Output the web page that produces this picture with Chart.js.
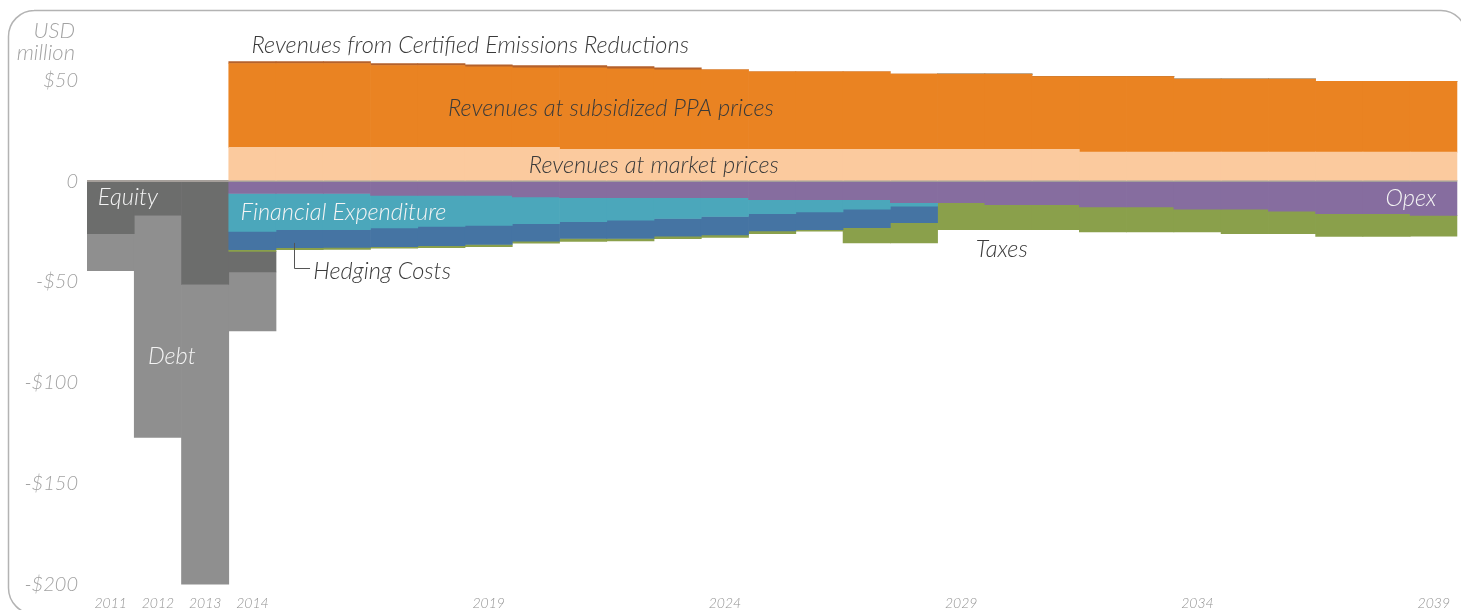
<!DOCTYPE html>
<html>
<head>
<meta charset="utf-8">
<script src="https://cdn.jsdelivr.net/npm/chart.js@4"></script>
<style>
  html, body { margin: 0; padding: 0; background: #fff; overflow: hidden; }
  #wrap { width: 1461px; height: 610px; position: relative; }
  canvas { display: block; }
</style>
</head>
<body>
<div id="wrap"><canvas id="cash-chart"></canvas></div>
<script>
// Project cash flows, USD million
const years = [];
for (let y = 2011; y <= 2039; y++) years.push(String(y));
const shownYears = ['2011', '2012', '2013', '2014', '2019', '2024', '2029', '2034', '2039'];

// revenues (2011-2013 have none)
const revMarket = [null, null, null,
    16.8, 16.8, 16.8, 16.8, 16.8, 16.8, 16.8,
    15.8, 15.8, 15.8, 15.8, 15.8, 15.8, 15.8, 15.8, 15.8, 15.8, 15.8,
    14.4, 14.4, 14.4, 14.4, 14.4, 14.4, 14.4, 14.4];
const revPPA = [null, null, null,
    41.6, 41.6, 41.6, 40.6, 40.6, 39.9, 39.5, 40.5, 40.0, 39.4,
    39.4, 38.4, 38.4, 38.4, 37.3, 37.3, 37.3, 36.1,
    37.5, 37.5, 36.3, 36.3, 36.3, 35.2, 35.2, 35.2];
const revCER = [null, null, null,
    1.0, 1.0, 1.0, 1.0, 1.0, 1.0, 1.0, 1.0, 1.0, 1.0,
    0, 0, 0, 0, 0, 0, 0, 0, 0, 0, 0, 0, 0, 0, 0, 0];

// costs
const opex = [null, null, null,
    -6.1, -6.1, -6.1, -7.0, -7.0, -7.0, -7.8, -8.2, -8.2, -8.2,
    -8.2, -9.1, -9.1, -9.1, -10.6, -10.6, -11.6, -11.6,
    -12.8, -12.8, -13.9, -13.9, -14.9, -16.1, -16.1, -16.9];
const finExp = [null, null, null,
    -18.8, -17.9, -17.9, -16.1, -15.4, -14.9, -13.2, -11.9, -11.1, -10.3,
    -9.3, -7.0, -6.1, -4.8, -1.8, 0, 0, 0, 0, 0, 0, 0, 0, 0, 0, 0];
const hedging = [null, null, null,
    -9.1, -9.0, -8.8, -9.3, -9.5, -9.5, -8.7, -8.3, -9.1, -8.8,
    -9.1, -8.6, -8.8, -9.1, -8.1, 0, 0, 0, 0, 0, 0, 0, 0, 0, 0, 0];
const taxes = [null, null, null,
    -0.8, -1.0, -1.0, -0.8, -1.0, -1.0, -1.0, -1.5, -1.2, -1.2,
    -1.3, -1.3, -0.8, -7.6, -10.1, -13.4, -12.4, -12.4,
    -12.4, -12.4, -11.3, -12.1, -11.1, -11.3, -11.3, -10.4];

// financing
const equity = [-26.0, -17.0, -51.2, -10.2];
const debt = [-18.4, -110.0, -149.0, -29.3];

const inkDark = '#3a3a3a';
const inkLight = '#f4f4f4';
const axisGrey = '#a3a3a3';
const fontFamily = "'Lato', 'Open Sans', sans-serif";

// labels placed in data units: yr = fractional year from left edge of 2011, v = USD million
const notes = [
    { text: 'Revenues from Certified Emissions Reductions', yr: 2014.48, v: 67.5, color: inkDark },
    { text: 'Revenues at subsidized PPA prices', yr: 2018.64, v: 36.3, color: inkDark },
    { text: 'Revenues at market prices', yr: 2020.35, v: 8.0, color: inkDark },
    { text: 'Equity', yr: 2011.23, v: -7.8, color: inkLight },
    { text: 'Financial Expenditure', yr: 2014.25, v: -15.3, color: inkLight },
    { text: 'Hedging Costs', yr: 2015.79, v: -44.6, color: inkDark },
    { text: 'Debt', yr: 2012.29, v: -86.7, color: inkLight },
    { text: 'Taxes', yr: 2029.81, v: -33.6, color: inkDark },
    { text: 'Opex', yr: 2038.48, v: -8.3, color: inkLight }
];

const framePlugin = {
    id: 'frame',
    beforeDraw(chart) {
        const c = chart.ctx;
        c.save();
        c.strokeStyle = '#b3b3b3';
        c.lineWidth = 1.5;
        c.beginPath();
        c.moveTo(1466, 640);
        c.lineTo(1466, 36);
        c.arcTo(1466, 10.5, 1440, 10.5, 25);
        c.lineTo(34, 10.5);
        c.arcTo(8.5, 10.5, 8.5, 36, 26);
        c.lineTo(8.5, 588);
        c.arcTo(8.5, 614, 34, 614, 26);
        c.stroke();

        // unit label above the y ticks
        c.fillStyle = axisGrey;
        c.font = `italic 300 22px ${fontFamily}`;
        c.textAlign = 'right';
        c.textBaseline = 'middle';
        c.fillText('USD', 75, 31);
        c.fillText('million', 75, 53);
        c.restore();
    }
};

const notesPlugin = {
    id: 'notes',
    afterDatasetsDraw(chart) {
        const c = chart.ctx;
        const xs = chart.scales.x;
        const ys = chart.scales.y;
        const w = xs.getPixelForValue(1) - xs.getPixelForValue(0);
        const x0 = xs.getPixelForValue(0) - w / 2;
        const xAt = yr => x0 + (yr - 2011) * w;

        c.save();
        c.font = `italic 300 23.6px ${fontFamily}`;
        c.textAlign = 'left';
        c.textBaseline = 'middle';
        notes.forEach(n => {
            c.fillStyle = n.color;
            c.fillText(n.text, xAt(n.yr), ys.getPixelForValue(n.v));
        });

        // leader line for hedging costs
        c.strokeStyle = '#555';
        c.lineWidth = 1;
        c.beginPath();
        c.moveTo(Math.round(xAt(2015.39)) + 0.5, ys.getPixelForValue(-30.6));
        c.lineTo(Math.round(xAt(2015.39)) + 0.5, Math.round(ys.getPixelForValue(-43.0)) + 0.5);
        c.lineTo(xAt(2015.72), Math.round(ys.getPixelForValue(-43.0)) + 0.5);
        c.stroke();
        c.restore();
    }
};

const ds = (label, data, color) => ({
    label, data, backgroundColor: color, borderWidth: 0, stack: 'cash'
});

new Chart(document.getElementById('cash-chart'), {
    type: 'bar',
    data: {
        labels: years,
        datasets: [
            ds('Revenues at market prices', revMarket, '#fbca9e'),
            ds('Revenues at subsidized PPA prices', revPPA, '#ea8322'),
            ds('Revenues from Certified Emissions Reductions', revCER, '#b4612b'),
            ds('Opex', opex, '#866d9f'),
            ds('Financial Expenditure', finExp, '#4ba7bb'),
            ds('Hedging Costs', hedging, '#4574a3'),
            ds('Taxes', taxes, '#8aa04b'),
            ds('Equity', equity, '#6c6d6c'),
            ds('Debt', debt, '#8f8f8f')
        ]
    },
    options: {
        responsive: true,
        maintainAspectRatio: false,
        animation: false,
        barPercentage: 1,
        categoryPercentage: 1,
        layout: { padding: { top: 30, left: 0, right: 0, bottom: 0 } },
        plugins: {
            legend: { display: false },
            tooltip: { enabled: false }
        },
        scales: {
            x: {
                stacked: true,
                grid: { display: false, drawTicks: false },
                border: { display: false },
                afterFit: scale => { scale.height = 25.5; },
                ticks: {
                    autoSkip: false,
                    maxRotation: 0,
                    padding: 11,
                    color: '#939393',
                    font: { family: fontFamily, size: 14, style: 'italic', weight: '300' },
                    callback: function (value) {
                        const lab = this.getLabelForValue(value);
                        return shownYears.includes(lab) ? lab : '';
                    }
                }
            },
            y: {
                stacked: true,
                min: -200,
                max: 75,
                z: 1,
                border: { display: false },
                afterFit: scale => { scale.width = 87; },
                afterBuildTicks: scale => {
                    scale.ticks = scale.ticks.filter(t => t.value % 50 === 0);
                },
                grid: {
                    drawTicks: false,
                    lineWidth: 2,
                    color: ctx => (ctx.tick && ctx.tick.value === 0) ? '#a59f9a' : 'rgba(0,0,0,0)'
                },
                ticks: {
                    stepSize: 50,
                    padding: 9,
                    color: axisGrey,
                    font: { family: fontFamily, size: 20, style: 'italic', weight: '300' },
                    callback: v => v === 0 ? '0' : (v < 0 ? '-$' + (-v) : '$' + v)
                }
            }
        }
    },
    plugins: [framePlugin, notesPlugin]
});
</script>
</body>
</html>
